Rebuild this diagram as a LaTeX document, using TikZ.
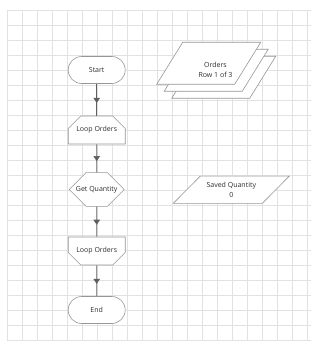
\documentclass[tikz,border=0pt]{standalone}
\usepackage{fontspec}
\setmainfont{Open Sans}
\usepackage{tikz}
\usetikzlibrary{shapes.misc, arrows.meta, decorations.markings}
\definecolor{gridln}{RGB}{226,226,226}
\definecolor{outline}{RGB}{150,150,150}
\definecolor{flow}{RGB}{95,95,95}
\definecolor{txt}{RGB}{45,45,45}
% parallelogram data shape: centre x, centre y, edge length, height, slant
\newcommand{\datashape}[5]{%
  \pgfmathsetmacro\dxl{#1-#3/2+#5/2}%
  \pgfmathsetmacro\dyt{#2-#4/2}%
  \draw[outline, fill=white] (\dxl,\dyt) -- ++(#3,0) -- ++(-#5,#4) -- ++(-#3,0) -- cycle;
}

\begin{document}
\begin{tikzpicture}[x=1pt, y=-1pt, line width=0.6pt,
    font=\fontsize{7}{10}\selectfont,
    every node/.style={text=txt, inner sep=0pt, align=center},
    terminal/.style={draw=outline, fill=white, rounded corners=13.5pt,
      minimum width=57pt, minimum height=27pt},
    loopbox/.style={chamfered rectangle, draw=outline, fill=white,
      chamfered rectangle xsep=8pt, chamfered rectangle ysep=9pt,
      minimum width=57pt, minimum height=28pt},
    prepbox/.style={chamfered rectangle, draw=outline, fill=white,
      chamfered rectangle xsep=7.5pt, chamfered rectangle ysep=13.5pt,
      minimum width=55pt, minimum height=27pt},
    flowline/.style={draw=flow, postaction={decorate}, decoration={markings,
      mark=at position 0.6 with {\arrow[flow]{Triangle[width=6.5pt,length=5pt]}}}}]

  % ---------- page and grid ----------
  \useasboundingbox (0,0) rectangle (313,350);
  \fill[white] (0,0) rectangle (313,350);
  \foreach \gx in {0,...,20}{
    \draw[gridln, line width=0.4pt] ({6.7+15*\gx},10) -- ({6.7+15*\gx},341);
  }
  \foreach \gy in {0,...,22}{
    \draw[gridln, line width=0.4pt] (6.7,{10+15*\gy}) -- (311,{10+15*\gy});
  }

  % ---------- flowchart column ----------
  \node[terminal] (start) at (96.7,70) {Start};
  \node[loopbox, chamfered rectangle corners={north west, north east}] (loopOpen) at (96.7,130) {Loop Orders};
  \node[prepbox] (getQty) at (96.7,189.5) {Get Quantity};
  \node[loopbox, chamfered rectangle corners={south west, south east}] (loopClose) at (96.7,251) {Loop Orders};
  \node[terminal] (end) at (96.7,310) {End};

  \draw[flowline] (start) -- (loopOpen);
  \draw[flowline] (loopOpen) -- (getQty);
  \draw[flowline] (getQty) -- (loopClose);
  \draw[flowline] (loopClose) -- (end);

  % ---------- data shapes ----------
  % stacked record set, back to front
  \datashape{223.7}{77.3}{78}{42}{26}
  \datashape{216.2}{70.3}{78}{42}{26}
  \datashape{208.7}{63.3}{78}{42}{26}
  \node (orders) at (215.5,70.3) {Orders\\Row 1 of 3};

  \datashape{231.3}{189.7}{89}{27.3}{27}
  \node (savedQty) at (231.3,189.7) {Saved Quantity\\0};

\end{tikzpicture}
\end{document}
